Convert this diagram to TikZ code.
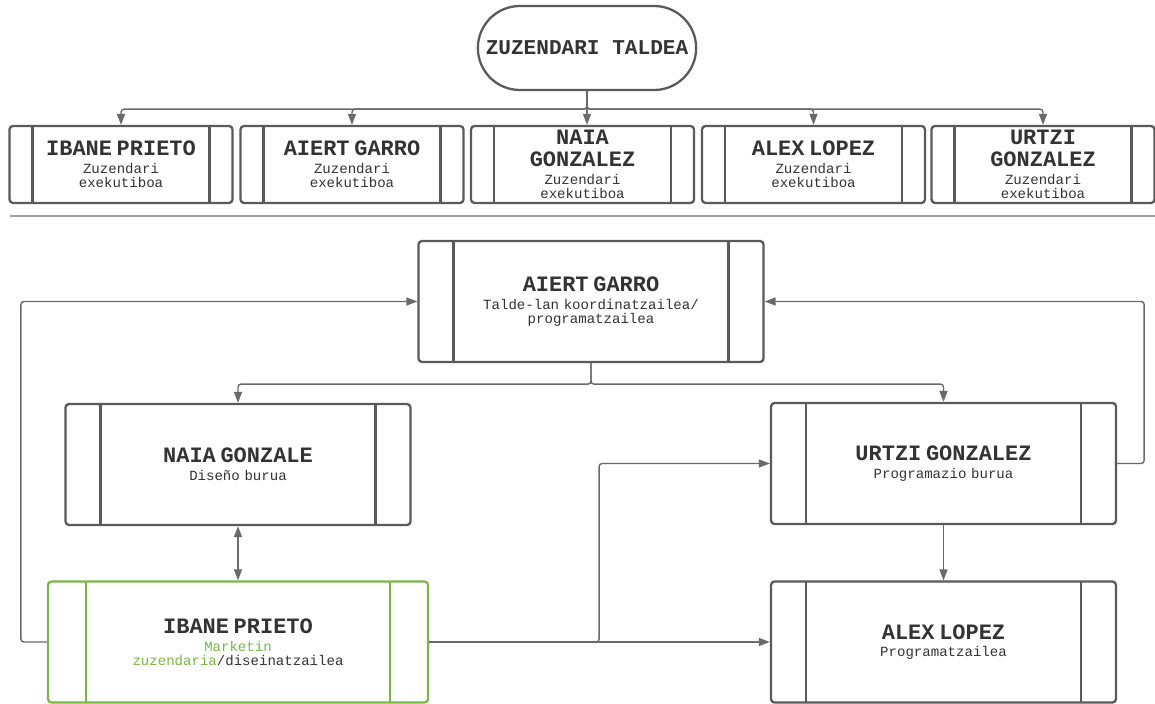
\documentclass[tikz,border=0pt]{standalone}
\usepackage{fontspec}
\setmonofont{Liberation Mono}[WordSpace={1,0,0}]
\usetikzlibrary{arrows.meta,positioning,shapes.misc}

\setlength{\parindent}{0pt}
\newlength{\unitpx}\setlength{\unitpx}{0.2mm}
\definecolor{boxgray}{HTML}{5A5A5A}
\definecolor{linegray}{HTML}{6A6A6A}
\definecolor{ink}{HTML}{333333}
\definecolor{leafgreen}{HTML}{7AB648}
\newcommand{\boxtitle}[1]{{\fontsize{12.5}{12.5}\selectfont\bfseries #1\par}\vspace{2pt}}

\begin{document}
\begin{tikzpicture}[x=0.2mm, y=-0.2mm,
  >={Triangle[length=2.2mm,width=1.6mm]},
  pbox/.style 2 args={draw=#2, line width=1.3pt, rounded corners=0.7mm, fill=white,
      align=center, inner sep=0pt, text=ink, font=\ttfamily\fontsize{8}{8}\selectfont,
      path picture={\draw[#2, line width=1.3pt, sharp corners]
        ([xshift=#1\unitpx]path picture bounding box.north west) -- ([xshift=#1\unitpx]path picture bounding box.south west)
        ([xshift=-#1\unitpx]path picture bounding box.north east) -- ([xshift=-#1\unitpx]path picture bounding box.south east);}},
  exec/.style={pbox={23}{boxgray}, minimum width=223\unitpx, minimum height=77\unitpx, text width=38mm},
  role/.style={pbox={35}{boxgray}, minimum width=345\unitpx, minimum height=121\unitpx, text width=50mm},
  leader/.style={rounded rectangle, draw=boxgray, line width=1.3pt, fill=white,
      minimum width=230\unitpx, minimum height=84\unitpx, text=ink,
      font=\ttfamily\bfseries\fontsize{12}{12}\selectfont},
  conn/.style={draw=linegray, line width=0.8pt, rounded corners=0.6mm, ->},
]
\fill[white] (0,0) rectangle (1155,704);
\useasboundingbox (0,0) rectangle (1155,704);

% --- Zuzendari taldea ---
\node[leader] (zt) at (587,48) {ZUZENDARI TALDEA};
\node[exec] (e1) at (121,164.5) {\boxtitle{IBANE PRIETO}Zuzendari\\exekutiboa};
\node[exec] (e2) at (352,164.5) {\boxtitle{AIERT GARRO}Zuzendari\\exekutiboa};
\node[exec] (e3) at (582.5,164.5) {\boxtitle{NAIA\\GONZALEZ}Zuzendari\\exekutiboa};
\node[exec] (e4) at (813.5,164.5) {\boxtitle{ALEX LOPEZ}Zuzendari\\exekutiboa};
\node[exec] (e5) at (1043,164.5) {\boxtitle{URTZI\\GONZALEZ}Zuzendari\\exekutiboa};

\foreach \n in {e1,e2,e4,e5}
  \draw[conn] (zt.south) -- ++(0,18) -| (\n.north);
\draw[conn] (zt.south) -- (zt.south |- e3.north);

\draw[draw=gray!75, line width=1pt] (10,216) -- (1155,216);

% --- Lan taldea ---
\node[role] (ag) at (591,301.5) {\boxtitle{AIERT GARRO}Talde-lan koordinatzailea/\\programatzailea};
\node[role] (ng) at (238,464.5) {\boxtitle{NAIA GONZALE}Diseño burua};
\node[role] (ug) at (943.5,463.5) {\boxtitle{URTZI GONZALEZ}Programazio burua};
\node[pbox={38}{leafgreen}, minimum width=380\unitpx, minimum height=121\unitpx, text width=50mm]
  (ip) at (238,642) {\boxtitle{IBANE PRIETO}\textcolor{leafgreen}{Marketin}\\\textcolor{leafgreen}{zuzendaria}/diseinatzailea};
\node[role] (al) at (943.5,642) {\boxtitle{ALEX LOPEZ}Programatzailea};

\draw[conn] (ag.south) -- ++(0,21) -| (ng.north);
\draw[conn] (ag.south) -- ++(0,21) -| (ug.north);
\draw[conn] (ug.east) -- ++(27,0) |- (ag.east);
\draw[conn] (ip.west) -- ++(-26,0) |- (ag.west);
\draw[conn] (ip.east) -- (al.west);
\draw[conn] (ip.east) -- ++(170,0) |- (ug.west);
\draw[conn] (ug.south) -- (al.north);
\draw[conn, <->] (ng.south) -- (ip.north);
\end{tikzpicture}
\end{document}
